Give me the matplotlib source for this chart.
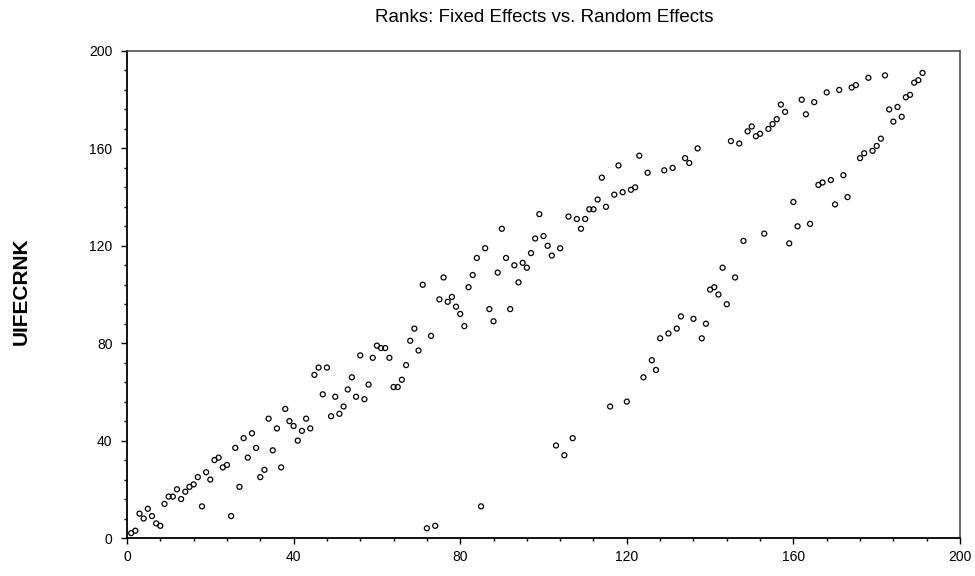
import numpy as np
import matplotlib
matplotlib.use("Agg")
import matplotlib.pyplot as plt
from matplotlib.ticker import MultipleLocator

# fixed effects rank on x (1..191), random effects rank
fe_rank = np.arange(1, 192)
re_rank = [
    2, 3, 10, 8, 12, 9, 6, 5, 14, 17,
    17, 20, 16, 19, 21, 22, 25, 13, 27, 24,
    32, 33, 29, 30, 9, 37, 21, 41, 33, 43,
    37, 25, 28, 49, 36, 45, 29, 53, 48, 46,
    40, 44, 49, 45, 67, 70, 59, 70, 50, 58,
    51, 54, 61, 66, 58, 75, 57, 63, 74, 79,
    78, 78, 74, 62, 62, 65, 71, 81, 86, 77,
    104, 4, 83, 5, 98, 107, 97, 99, 95, 92,
    87, 103, 108, 115, 13, 119, 94, 89, 109, 127,
    115, 94, 112, 105, 113, 111, 117, 123, 133, 124,
    120, 116, 38, 119, 34, 132, 41, 131, 127, 131,
    135, 135, 139, 148, 136, 54, 141, 153, 142, 56,
    143, 144, 157, 66, 150, 73, 69, 82, 151, 84,
    152, 86, 91, 156, 154, 90, 160, 82, 88, 102,
    103, 100, 111, 96, 163, 107, 162, 122, 167, 169,
    165, 166, 125, 168, 170, 172, 178, 175, 121, 138,
    128, 180, 174, 129, 179, 145, 146, 183, 147, 137,
    184, 149, 140, 185, 186, 156, 158, 189, 159, 161,
    164, 190, 176, 171, 177, 173, 181, 182, 187, 188,
    191,
]

fig = plt.figure(figsize=(9.75, 5.76), dpi=100)
ax = fig.add_axes([127 / 975, 1 - 538 / 576, (960 - 127) / 975, (538 - 51) / 576])

ax.scatter(fe_rank, re_rank, s=13, facecolors="none", edgecolors="black", linewidths=0.9)

ax.set_xlim(0, 200)
ax.set_ylim(0, 200)
ax.xaxis.set_major_locator(MultipleLocator(40))
ax.yaxis.set_major_locator(MultipleLocator(40))
ax.xaxis.set_minor_locator(MultipleLocator(8))
ax.yaxis.set_minor_locator(MultipleLocator(8))
ax.tick_params(which="major", direction="out", length=4.5, width=1, labelsize=10)
ax.tick_params(which="minor", direction="out", length=2.5, width=1)
ax.tick_params(axis="x", pad=4)
ax.tick_params(axis="y", pad=6)
for lab in ax.get_xticklabels() + ax.get_yticklabels():
    lab.set_family("Liberation Sans")

for side in ["left", "bottom"]:
    ax.spines[side].set_linewidth(1.3)
    ax.spines[side].set_color("black")
for side in ["top", "right"]:
    ax.spines[side].set_linewidth(1.1)
    ax.spines[side].set_color("#444444")

fig.text(544 / 975, 1 - 18 / 576, "Ranks: Fixed Effects vs. Random Effects",
         ha="center", va="center", fontsize=13.5, family="Liberation Sans")
fig.text(21 / 975, 1 - 291 / 576, "UIFECRNK", rotation=90, ha="center", va="center",
         fontsize=15, fontweight="bold", family="Liberation Sans")

fig.savefig("out.png", dpi=100)
